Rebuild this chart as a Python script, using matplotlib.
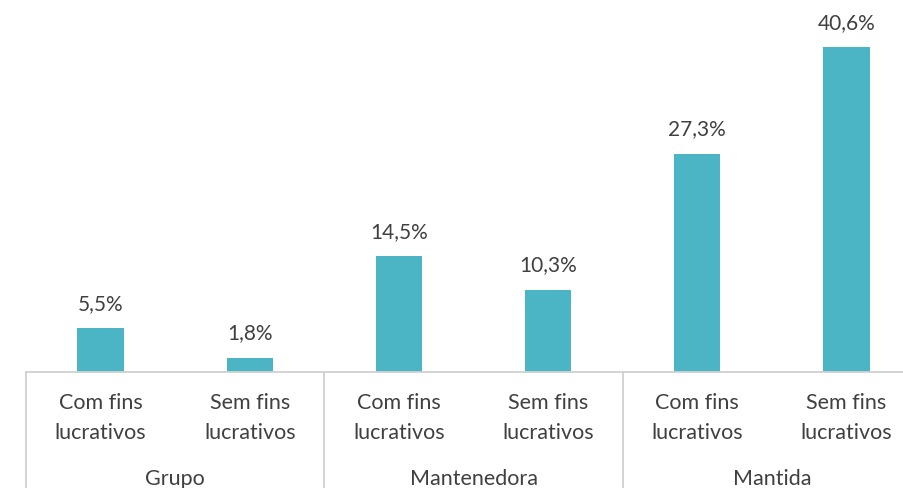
import matplotlib.pyplot as plt
import matplotlib.transforms as mtransforms

plt.rcParams['font.family'] = ['Lato', 'DejaVu Sans']

groups = ['Grupo', 'Mantenedora', 'Mantida']
categories = ['Com fins\nlucrativos', 'Sem fins\nlucrativos'] * 3
values = [5.5, 1.8, 14.5, 10.3, 27.3, 40.6]
value_labels = ['5,5%', '1,8%', '14,5%', '10,3%', '27,3%', '40,6%']

bar_color = '#4BB4C5'
text_color = '#404040'
line_color = '#D0D0D0'

fig = plt.figure(figsize=(9.04, 4.88), dpi=100)
ax = fig.add_axes([26 / 904, 116 / 488, 878 / 904, 372 / 488])

x = list(range(len(values)))
ax.bar(x, values, width=0.31, color=bar_color)
ax.set_xlim(-0.5, 5.386)
ax.set_ylim(0, 46.5)

for xi, v, lab in zip(x, values, value_labels):
    ax.annotate(lab, (xi, v), xytext=(0, 13), textcoords='offset points',
                ha='center', va='baseline', fontsize=15, color=text_color)

for s in ax.spines.values():
    s.set_visible(False)
ax.set_yticks([])
ax.set_xticks([])
ax.axhline(0, color=line_color, lw=1.3, clip_on=False)

trans = mtransforms.blended_transform_factory(ax.transData, fig.transFigure)
for xs in [-0.5, 1.5, 3.5]:
    ax.plot([xs, xs], [116 / 488, 0], color=line_color, lw=1.3,
            transform=trans, clip_on=False)

for xi, cat in zip(x, categories):
    ax.text(xi, 70 / 488, cat, transform=trans, ha='center', va='center',
            fontsize=15.5, color=text_color, linespacing=1.6)

for gi, g in enumerate(groups):
    ax.text(2 * gi + 0.5, 9 / 488, g, transform=trans, ha='center',
            va='center', fontsize=15.5, color=text_color)

fig.savefig('out.png', dpi=100)
